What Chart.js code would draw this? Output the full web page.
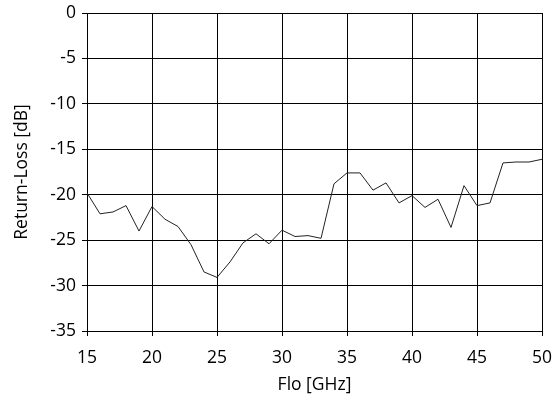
<!DOCTYPE html>
<html>
<head>
<meta charset="utf-8">
<script src="https://cdn.jsdelivr.net/npm/chart.js@4/dist/chart.umd.min.js"></script>
<style>
  html, body { margin: 0; padding: 0; background: #fff; }
  #wrap { width: 560px; height: 400px; }
</style>
</head>
<body>
<div id="wrap"><canvas id="grafico" width="560" height="400"></canvas></div>
<script>
// frecuencia LO en GHz y return loss en dB
const flo = [15, 16, 17, 18, 19, 20, 21, 22, 23, 24, 25, 26, 27, 28, 29, 30, 31, 32, 33, 34, 35,
  36, 37, 38, 39, 40, 41, 42, 43, 44, 45, 46, 47, 48, 49, 50];
const returnLoss = [-19.8, -22.1, -21.9, -21.2, -24.0, -21.3, -22.7, -23.5, -25.5, -28.5, -29.1,
  -27.4, -25.3, -24.3, -25.4, -23.9, -24.6, -24.5, -24.8, -18.8, -17.6, -17.6, -19.5, -18.7,
  -20.9, -20.1, -21.4, -20.5, -23.6, -19.0, -21.2, -20.9, -16.5, -16.4, -16.4, -16.1];
const xTicks = [15, 20, 25, 30, 35, 40, 45, 50];
const yTicks = [0, -5, -10, -15, -20, -25, -30, -35];

const fuente = { family: "'Open Sans', sans-serif", size: 17.5 };

// sin padding extra de las escalas, el area la fija layout.padding
function sinPadding(s) {
  s.paddingLeft = 0; s.paddingRight = 0; s.paddingTop = 0; s.paddingBottom = 0;
}

const ctx = document.getElementById('grafico').getContext('2d');
new Chart(ctx, {
  type: 'line',
  data: {
    datasets: [{
      data: flo.map((f, i) => ({ x: f, y: returnLoss[i] })),
      borderColor: '#222',
      borderWidth: 1,
      pointRadius: 0,
      tension: 0
    }]
  },
  options: {
    responsive: false,
    animation: false,
    layout: { padding: { top: 13, right: 18, left: 0, bottom: 0 } },
    plugins: { legend: { display: false }, tooltip: { enabled: false } },
    scales: {
      x: {
        type: 'linear',
        min: 15,
        max: 50,
        afterFit: s => { s.height = 69; sinPadding(s); },
        afterBuildTicks: s => { s.ticks = xTicks.map(v => ({ value: v })); },
        ticks: { color: '#000', font: fuente, padding: 12, maxRotation: 0 },
        grid: { color: '#000', lineWidth: 1, tickLength: 5 },
        border: { color: '#000', width: 1 },
        title: { display: true, text: 'Flo [GHz]', color: '#000', font: fuente, padding: { top: 0, bottom: 4 } }
      },
      y: {
        min: -35,
        max: 0,
        afterFit: s => { s.width = 87; sinPadding(s); },
        afterBuildTicks: s => { s.ticks = yTicks.map(v => ({ value: v })); },
        ticks: { color: '#000', font: fuente, padding: 6 },
        grid: { color: '#000', lineWidth: 1, tickLength: 5 },
        border: { color: '#000', width: 1 },
        title: { display: true, text: 'Return-Loss [dB]', color: '#000', font: fuente, padding: { top: 12, bottom: 0 } }
      }
    }
  }
});
</script>
</body>
</html>
